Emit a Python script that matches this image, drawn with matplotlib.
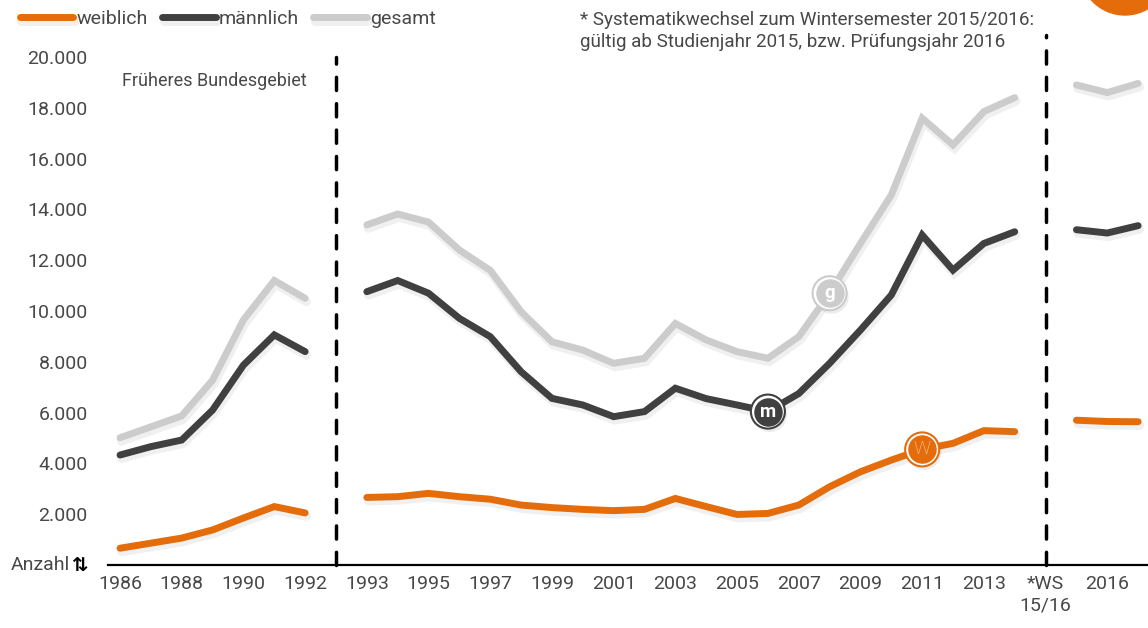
import numpy as np
import matplotlib
matplotlib.use('Agg')
import matplotlib.pyplot as plt
import matplotlib.patheffects as pe
from matplotlib.patches import Ellipse
from matplotlib.ticker import FuncFormatter

plt.rcParams['font.family'] = ['Roboto', 'DejaVu Sans']
plt.rcParams['font.weight'] = 'normal'

# --- data (Anzahl) ---
# Früheres Bundesgebiet 1986-1992
jahre_west = [1986, 1987, 1988, 1989, 1990, 1991, 1992]
weiblich_west = [660, 860, 1060, 1380, 1850, 2300, 2050]
maennlich_west = [4330, 4660, 4920, 6100, 7870, 9060, 8400]
gesamt_west = [5010, 5440, 5870, 7280, 9650, 11200, 10500]

# Deutschland 1993-2014
jahre_de = list(range(1993, 2015))
weiblich_de = [2660, 2690, 2820, 2690, 2590, 2360, 2260, 2190, 2140, 2190, 2620,
               2300, 1990, 2030, 2360, 3080, 3670, 4130, 4550, 4790, 5290, 5250]
maennlich_de = [10760, 11200, 10700, 9710, 8990, 7610, 6560, 6300, 5840, 6040, 6960,
                6550, 6300, 6040, 6750, 7940, 9250, 10630, 12990, 11610, 12660, 13120]
gesamt_de = [13390, 13820, 13500, 12400, 11600, 9970, 8790, 8460, 7940, 8140, 9510,
             8860, 8400, 8140, 8990, 10700, 12660, 14570, 17590, 16540, 17850, 18400]

# nach Systematikwechsel
weiblich_neu = [5700, 5650, 5640]
maennlich_neu = [13200, 13070, 13360]
gesamt_neu = [18900, 18600, 18960]

tick_labels = ['1986', '1988', '1990', '1992', '1993', '1995', '1997', '1999', '2001',
               '2003', '2005', '2007', '2009', '2011', '2013', '*WS\n15/16', '2016']

# category slots: gap slots at 7 and 30 hold the dashed separators
x_west = np.arange(0, 7)
x_de = np.arange(8, 30)
x_neu = np.arange(31, 34)
tick_pos = [0, 2, 4, 6] + list(range(8, 31, 2)) + [32]
brueche = [7, 30]

c_w = '#E46C0A'
c_m = '#404040'
c_g = '#CCCCCC'
txt = '#484848'

fig = plt.figure(figsize=(11.48, 6.28), dpi=100)
ax = fig.add_axes([108 / 1148, 63 / 628, 1 - 108 / 1148, 535 / 628])

shadow = [pe.SimpleLineShadow(offset=(1, -2.5), shadow_color='black', alpha=0.06,
                              linewidth=6.5),
          pe.Normal()]

series = [
    ('weiblich', c_w, weiblich_west, weiblich_de, weiblich_neu),
    ('männlich', c_m, maennlich_west, maennlich_de, maennlich_neu),
    ('gesamt', c_g, gesamt_west, gesamt_de, gesamt_neu),
]
for name, col, a, b, c in reversed(series):
    for xs, ys, lab in [(x_west, a, name), (x_de, b, None), (x_neu, c, None)]:
        ax.plot(xs, ys, color=col, lw=5, solid_capstyle='round',
                solid_joinstyle='miter', label=lab, path_effects=shadow, zorder=3)

# dashed separators
for xb, top in zip(brueche, [20000, 20870]):
    ax.plot([xb, xb], [0, top], color='black', lw=2.5, ls=(0, (3.8, 3.8)),
            dash_capstyle='round', clip_on=False, zorder=4)

# series badges
badges = [('g', x_de[jahre_de.index(2008)], gesamt_de[jahre_de.index(2008)], c_g, 'white', 'bold'),
          ('m', x_de[jahre_de.index(2006)], maennlich_de[jahre_de.index(2006)], c_m, 'white', 'bold'),
          ('W', x_de[jahre_de.index(2011)], weiblich_de[jahre_de.index(2011)], c_w, '#f6d2b4', 'light')]
for letter, bx, by, col, tcol, tw in badges:
    ax.scatter([bx], [by], s=600, facecolor='white', edgecolor=col, linewidth=1.5, zorder=5,
               path_effects=[pe.SimplePatchShadow(offset=(1.5, -2.5), alpha=0.1), pe.Normal()])
    ax.scatter([bx], [by], s=380, color=col, zorder=6)
    ax.text(bx, by, letter, ha='center', va='center', color=tcol, fontsize=13.5,
            fontweight=tw, zorder=7)

ax.set_xlim(-0.39, 33.32)
ax.set_ylim(0, 21063)
ax.set_yticks(range(2000, 20001, 2000))
ax.yaxis.set_major_formatter(FuncFormatter(lambda v, p: f'{int(v):,}'.replace(',', '.')))
ax.set_xticks(tick_pos)
ax.set_xticklabels(tick_labels, va='top', linespacing=1.3)
ax.tick_params(axis='both', length=0, labelsize=14, labelcolor=txt)
ax.tick_params(axis='y', pad=14.5)
ax.tick_params(axis='x', pad=7)
for s in ['top', 'right', 'left']:
    ax.spines[s].set_visible(False)
ax.spines['bottom'].set_linewidth(1.6)
ax.spines['bottom'].set_color('black')

ax.text(-1.62, 0, 'Anzahl', ha='right', va='center', fontsize=14, color=txt)
ax.text(-1.6, 0, '⇅', ha='left', va='center', fontsize=14, color='black',
        fontweight='bold', family=['DejaVu Sans'])

ax.text(3.05, 19050, 'Früheres Bundesgebiet', ha='center', va='center', fontsize=13,
        color=txt)

fig.text(580 / 1148, 1 - 11 / 628,
         '* Systematikwechsel zum Wintersemester 2015/2016:\n'
         'gültig ab Studienjahr 2015, bzw. Prüfungsjahr 2016',
         ha='left', va='top', fontsize=13.6, color=txt, linespacing=1.25)

# decorative orange circle in the corner
fig.add_artist(Ellipse((1125 / 1148, 1 + 30 / 628), 90 / 1148, 90 / 628,
                       transform=fig.transFigure, color=c_w, clip_on=False))

handles, labels = ax.get_legend_handles_labels()
order = [labels.index(n) for n in ['weiblich', 'männlich', 'gesamt']]
leg = ax.legend([handles[i] for i in order], [labels[i] for i in order],
                loc='upper left', bbox_to_anchor=(20 / 1148, 1 - 10 / 628),
                bbox_transform=fig.transFigure, ncol=3, frameon=False, fontsize=14,
                handlelength=2.75, handletextpad=0.15, columnspacing=0.75, borderpad=0,
                borderaxespad=0)
for t in leg.get_texts():
    t.set_color(txt)

fig.savefig('out.png', dpi=100)
